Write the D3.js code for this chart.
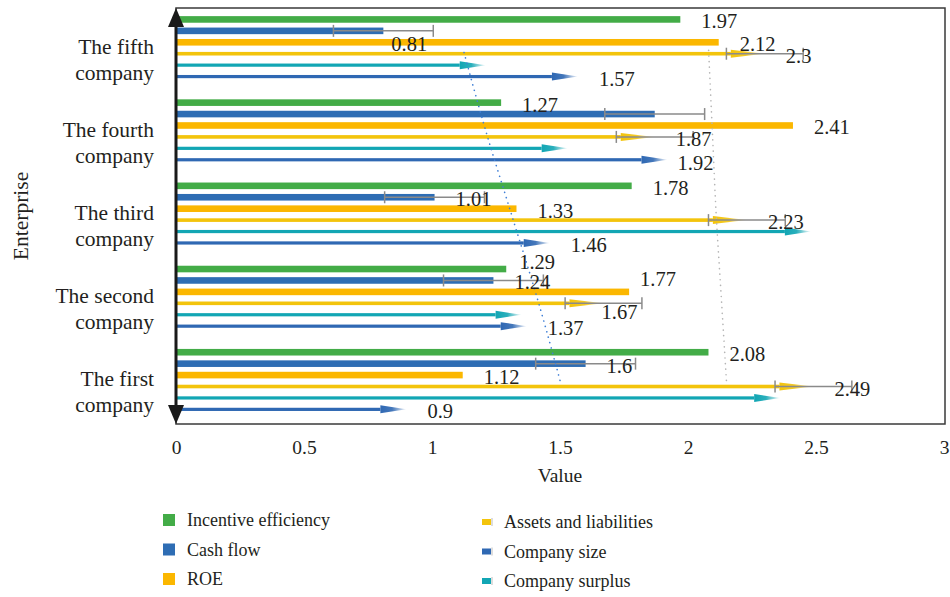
<!DOCTYPE html>
<html>
<head>
<meta charset="utf-8">
<script src="https://cdn.jsdelivr.net/npm/d3@7/dist/d3.min.js"></script>
<style>
  body { margin: 0; background: #fff; }
  text { font-family: "Liberation Serif", "DejaVu Serif", serif; fill: #231f20; }
</style>
</head>
<body>
<div id="chart"></div>
<script>
// companies, bottom to top
const companies = ['The first company', 'The second company', 'The third company', 'The fourth company', 'The fifth company'];
const xTicks = [0, 0.5, 1, 1.5, 2, 2.5, 3];

const incentive = [2.08, 1.29, 1.78, 1.27, 1.97];
const cashFlow  = [1.6, 1.24, 1.01, 1.87, 0.81];
const roe       = [1.12, 1.77, 1.33, 2.41, 2.12];
const assets    = [2.49, 1.67, 2.23, 1.87, 2.3];
const surplus   = [2.36, 1.35, 2.48, 1.53, 1.21];
const size      = [0.9, 1.37, 1.46, 1.92, 1.57];

const cashErr   = [0.195, 0.195, 0.195, 0.195, 0.195];
const assetsErr = [0.15, 0.15, 0.15, 0.15, 0.15];

// dotted trend lines
const blueTrend = [1.5, 1.41, 1.31, 1.21, 1.12];
const grayTrend = [2.15, 2.13, 2.11, 2.095, 2.08];

const series = [
  { name: 'Incentive efficiency', values: incentive, color: '#43ac47', kind: 'bar', err: null, label: true },
  { name: 'Cash flow', values: cashFlow, color: '#2e6db4', kind: 'bar', err: cashErr, label: true },
  { name: 'ROE', values: roe, color: '#fbb700', kind: 'bar', err: null, label: true },
  { name: 'Assets and liabilities', values: assets, color: '#f3c40c', kind: 'arrow', err: assetsErr, label: true },
  { name: 'Company surplus', values: surplus, color: '#12a6b4', kind: 'arrow', err: null, label: false },
  { name: 'Company size', values: size, color: '#2f68b3', kind: 'arrow', err: null, label: true }
];
const legendOrder = ['Incentive efficiency', 'Cash flow', 'ROE', 'Assets and liabilities', 'Company size', 'Company surplus'];
const hiddenLabels = [['Cash flow', 'The fourth company']];

// hand placement of a few value labels, as in the original
const labelNudge = {
  'Incentive efficiency|The second company': [-8, -9],
  'ROE|The second company': [-10, -15],
  'Assets and liabilities|The second company': [-23, 7],
  'Cash flow|The fifth company': [-13, 11],
  'Company size|The fourth company': [-11, 1]
};

const W = 950, H = 597;
const plot = { left: 176, right: 945, top: 8, bottom: 424 };

const svg = d3.select('#chart').append('svg')
  .attr('width', W).attr('height', H);

const defs = svg.append('defs');

const x = d3.scaleLinear().domain([0, 3]).range([plot.left, 944]);

const y = d3.scaleBand()
  .domain(companies.slice().reverse())
  .range([plot.top, plot.bottom]);

const inner = d3.scalePoint()
  .domain(series.map(s => s.name))
  .range([0, 80])
  .padding(1);

// frame
svg.append('rect')
  .attr('x', plot.left).attr('y', plot.top)
  .attr('width', plot.right - plot.left).attr('height', plot.bottom - plot.top)
  .attr('fill', 'none').attr('stroke', '#3a3a3a').attr('stroke-width', 1.5);

// gradients for arrow heads
series.filter(s => s.kind === 'arrow').forEach((s, i) => {
  const g = defs.append('linearGradient').attr('id', 'grad' + i)
    .attr('x1', '0%').attr('x2', '100%');
  g.append('stop').attr('offset', '0%').attr('stop-color', s.color).attr('stop-opacity', 1);
  g.append('stop').attr('offset', '45%').attr('stop-color', s.color).attr('stop-opacity', 0.9);
  g.append('stop').attr('offset', '100%').attr('stop-color', s.color).attr('stop-opacity', 0.05);
  s.grad = 'grad' + i;
});

const marks = svg.append('g');

series.forEach(s => {
  const rows = companies.map((c, i) => ({ c, v: s.values[i], e: s.err ? s.err[i] : null,
    cy: y(c) + inner(s.name) }));
  const g = marks.append('g');

  if (s.kind === 'bar') {
    g.selectAll('rect').data(rows).enter().append('rect')
      .attr('x', x(0))
      .attr('y', d => d.cy - 3.3)
      .attr('width', d => x(d.v) - x(0))
      .attr('height', 6.6)
      .attr('fill', s.color);
  } else {
    const headLen = s.name === 'Assets and liabilities' ? 34 : 26;
    const thick = s.name === 'Assets and liabilities' ? 3.6 : 3.2;
    g.selectAll('rect').data(rows).enter().append('rect')
      .attr('x', x(0))
      .attr('y', d => d.cy - thick / 2)
      .attr('width', d => x(d.v) - headLen - x(0))
      .attr('height', thick)
      .attr('fill', s.color);
    g.selectAll('path').data(rows).enter().append('path')
      .attr('d', d => {
        const tip = x(d.v), b = tip - headLen;
        return `M${b},${d.cy - 4}L${tip},${d.cy}L${b},${d.cy + 4}Z`;
      })
      .attr('fill', `url(#${s.grad})`);
  }

  if (s.err) {
    const eg = g.append('g').attr('stroke', '#8a8a8a').attr('stroke-width', 1.5).attr('fill', 'none');
    rows.forEach(d => {
      const x0 = x(d.v - d.e), x1 = x(d.v + d.e);
      eg.append('line').attr('x1', x0).attr('x2', x1).attr('y1', d.cy).attr('y2', d.cy);
      eg.append('line').attr('x1', x0).attr('x2', x0).attr('y1', d.cy - 6).attr('y2', d.cy + 6);
      eg.append('line').attr('x1', x1).attr('x2', x1).attr('y1', d.cy - 6).attr('y2', d.cy + 6);
    });
  }
  s.rows = rows;
});

// dotted trend lines
const trendY = c => y(c) + y.bandwidth() / 2 - 2;
const line = d3.line().x(d => x(d.v)).y(d => trendY(d.c)).curve(d3.curveMonotoneY);
[[blueTrend, '#3f7fd6'], [grayTrend, '#b4b4b4']].forEach(([vals, col]) => {
  svg.append('path')
    .datum(companies.map((c, i) => ({ c, v: vals[i] })))
    .attr('d', line)
    .attr('fill', 'none')
    .attr('stroke', col)
    .attr('stroke-width', 1.6)
    .attr('stroke-linecap', 'round')
    .attr('stroke-dasharray', '0.1,5.5');
});

// value labels
series.filter(s => s.label).forEach(s => {
  svg.append('g').selectAll('text')
    .data(s.rows.filter(d => !hiddenLabels.some(h => h[0] === s.name && h[1] === d.c)))
    .enter().append('text')
    .each(function (d) {
      const n = labelNudge[s.name + '|' + d.c] || [0, 0];
      d3.select(this)
        .attr('x', x(d.v) + 21 + n[0])
        .attr('y', d.cy + 9 + n[1]);
    })
    .attr('font-size', 20.5)
    .text(d => d.v);
});

// left axis with arrows
const ax = svg.append('g');
ax.append('line')
  .attr('x1', plot.left).attr('x2', plot.left)
  .attr('y1', plot.top + 6).attr('y2', plot.bottom - 6)
  .attr('stroke', '#1a1a1a').attr('stroke-width', 3);
ax.append('path')
  .attr('d', `M${plot.left - 8},${plot.top + 19}L${plot.left},${plot.top}L${plot.left + 8},${plot.top + 19}Z`)
  .attr('fill', '#1a1a1a');
ax.append('path')
  .attr('d', `M${plot.left - 8},${plot.bottom - 19}L${plot.left},${plot.bottom}L${plot.left + 8},${plot.bottom - 19}Z`)
  .attr('fill', '#1a1a1a');

// company labels
const yl = svg.append('g');
companies.forEach(c => {
  const words = c.split(' ');
  const t = yl.append('text')
    .attr('text-anchor', 'end')
    .attr('font-size', 21.5);
  const cy = y(c) + y.bandwidth() / 2;
  t.append('tspan').attr('x', 154).attr('y', cy + 4).text(words.slice(0, 2).join(' '));
  t.append('tspan').attr('x', 154).attr('y', cy + 30).text(words.slice(2).join(' '));
});

svg.append('text')
  .attr('transform', `translate(28,${(plot.top + plot.bottom) / 2}) rotate(-90)`)
  .attr('text-anchor', 'middle')
  .attr('font-size', 21.5)
  .text('Enterprise');

// x axis
const xa = svg.append('g')
  .attr('transform', `translate(0,${plot.bottom})`)
  .call(d3.axisBottom(x).tickValues(xTicks).tickSize(0).tickPadding(16).tickFormat(d3.format('')));
xa.select('.domain').remove();
xa.selectAll('text')
  .attr('font-size', 19.5)
  .attr('font-family', '"Liberation Serif", "DejaVu Serif", serif')
  .attr('fill', '#231f20');

svg.append('text')
  .attr('x', (x(0) + x(3)) / 2)
  .attr('y', 482)
  .attr('text-anchor', 'middle')
  .attr('font-size', 19.5)
  .text('Value');

// legend
const legend = svg.append('g');
legendOrder.forEach((name, i) => {
  const s = series.find(d => d.name === name);
  const col = i < 3 ? 0 : 1;
  const row = i % 3;
  const lx = col === 0 ? 163 : 482;
  const ly = (col === 0 ? 520 : 522) + row * 29.5;
  const g = legend.append('g');
  if (s.kind === 'bar') {
    g.append('rect').attr('x', lx).attr('y', ly - 6).attr('width', 12).attr('height', 12).attr('fill', s.color);
  } else {
    g.append('rect').attr('x', lx).attr('y', ly - 3).attr('width', 9).attr('height', 6).attr('fill', s.color);
    g.append('line').attr('x1', lx + 10).attr('x2', lx + 10).attr('y1', ly - 4).attr('y2', ly + 4)
      .attr('stroke', '#bbb').attr('stroke-width', 1);
  }
  g.append('text')
    .attr('x', col === 0 ? 187 : 504)
    .attr('y', ly + 6)
    .attr('font-size', 18)
    .text(s.name);
});
</script>
</body>
</html>
